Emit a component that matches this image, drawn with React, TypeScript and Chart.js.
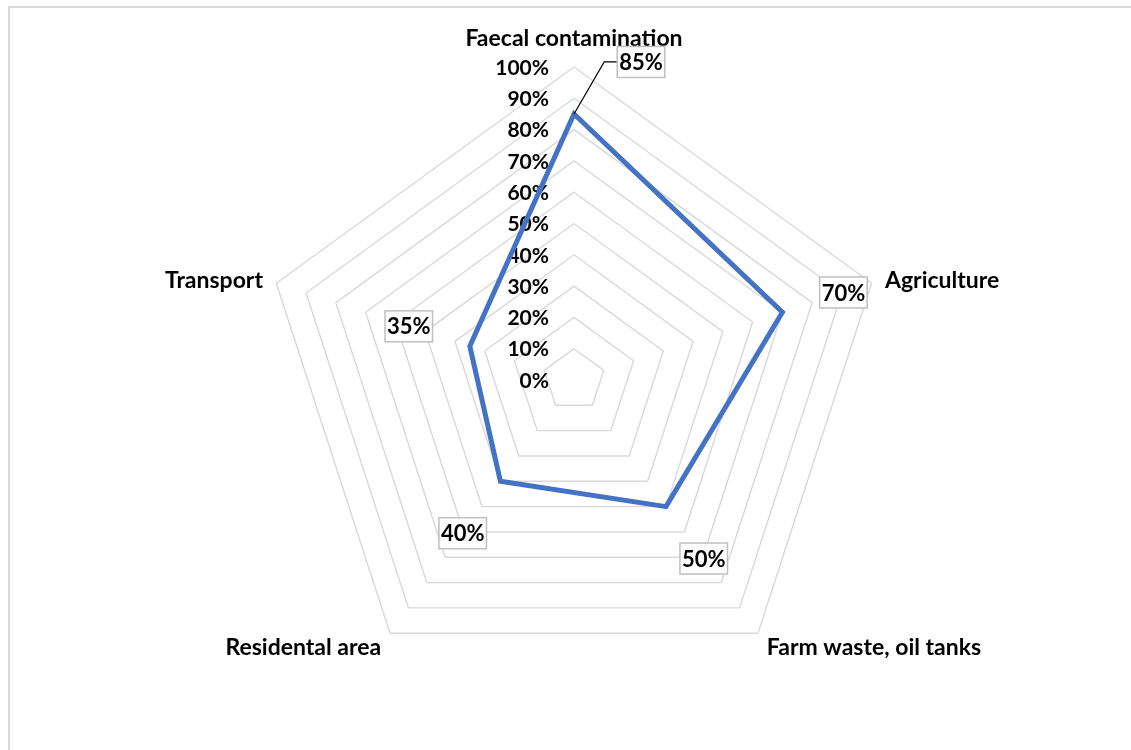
import React, { useEffect, useRef } from "react";
import { Chart, registerables } from "chart.js";

Chart.register(...registerables);

const categories = [
  "Faecal contamination",
  "Agriculture",
  "Farm waste, oil tanks",
  "Residental area",
  "Transport",
];
const values = [85, 70, 50, 40, 35];
const tickValues = [0, 10, 20, 30, 40, 50, 60, 70, 80, 90, 100];

const FONT = "Lato, 'Open Sans', sans-serif";
const TICK_FONT = `bold 21px ${FONT}`;
const CAT_FONT = `bold 23px ${FONT}`;
const DATA_FONT = `bold 22px ${FONT}`;

const overlayPlugin = {
  id: "overlay",
  beforeDatasetsDraw(chart: any) {
    const { ctx } = chart;
    const scale = chart.scales.r;
    ctx.save();
    ctx.font = TICK_FONT;
    ctx.fillStyle = "#000";
    ctx.textAlign = "right";
    ctx.textBaseline = "middle";
    tickValues.forEach((v) => {
      const d = scale.getDistanceFromCenterForValue(v);
      ctx.fillText(`${v}%`, scale.xCenter - 25, scale.yCenter - d + 1);
    });
    // category labels
    ctx.font = CAT_FONT;
    const extra = [30, 14, 15, 15, 14];
    categories.forEach((c, i) => {
      const p = scale.getPointPosition(i, scale.drawingArea + extra[i]);
      if (Math.abs(p.x - scale.xCenter) < 5) ctx.textAlign = "center";
      else if (p.x > scale.xCenter) ctx.textAlign = "left";
      else ctx.textAlign = "right";
      ctx.textBaseline = "middle";
      ctx.fillText(c, p.x, p.y + 2);
    });
    ctx.restore();
  },
  afterDatasetsDraw(chart: any) {
    const { ctx } = chart;
    const scale = chart.scales.r;
    ctx.save();
    ctx.font = DATA_FONT;
    values.forEach((v, i) => {
      const pt = scale.getPointPositionForValue(i, v);
      let lx: number, ly: number;
      if (i === 0) {
        lx = pt.x + 67;
        ly = pt.y - 52;
      } else {
        const p = scale.getPointPositionForValue(i, v + 20.5);
        lx = p.x;
        ly = p.y;
      }
      const text = `${v}%`;
      const w = ctx.measureText(text).width + 4;
      const h = 31;
      if (i === 0) {
        ctx.strokeStyle = "#000";
        ctx.lineWidth = 1.2;
        ctx.beginPath();
        ctx.moveTo(pt.x, pt.y);
        ctx.lineTo(lx - w / 2 - 13, ly);
        ctx.lineTo(lx - w / 2, ly);
        ctx.stroke();
      }
      ctx.fillStyle = "#fff";
      ctx.fillRect(lx - w / 2, ly - h / 2, w, h);
      ctx.strokeStyle = "#bfbfbf";
      ctx.lineWidth = 1.5;
      ctx.strokeRect(lx - w / 2, ly - h / 2, w, h);
      ctx.fillStyle = "#000";
      ctx.textAlign = "center";
      ctx.textBaseline = "middle";
      ctx.fillText(text, lx, ly + 1);
    });
    ctx.restore();
  },
};

export default function App() {
  const ref = useRef<HTMLCanvasElement>(null);
  useEffect(() => {
    if (!ref.current) return;
    const chart = new Chart(ref.current, {
      type: "radar",
      data: {
        labels: categories,
        datasets: [
          {
            data: values,
            borderColor: "#4472C4",
            borderWidth: 5,
            fill: false,
            pointRadius: 0,
            tension: 0,
            borderJoinStyle: "miter",
          },
        ],
      },
      options: {
        responsive: false,
        animation: false,
        layout: { padding: { left: 261, right: 244, top: 67, bottom: 57 } },
        plugins: { legend: { display: false }, tooltip: { enabled: false } },
        scales: {
          r: {
            min: 0,
            max: 100,
            ticks: { display: false, stepSize: 10 },
            pointLabels: { display: false },
            angleLines: { display: false },
            grid: { color: "#d9d9d9", lineWidth: 1.4 },
          },
        },
      },
      plugins: [overlayPlugin],
    });
    return () => chart.destroy();
  }, []);
  return (
    <div style={{ position: "fixed", left: 0, top: 0, width: 1131, height: 750, background: "#fff", overflow: "hidden" }}>
      <div
        style={{
          position: "absolute",
          left: 8,
          top: 6,
          right: 0,
          bottom: 0,
          borderTop: "2px solid #d9d9d9",
          borderLeft: "2px solid #d9d9d9",
        }}
      />
      <canvas ref={ref} width={1131} height={750} style={{ position: "absolute", left: 0, top: 0 }} />
    </div>
  );
}
